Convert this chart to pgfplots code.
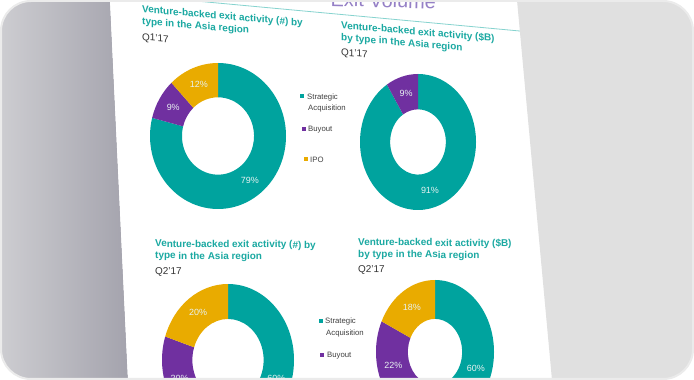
\documentclass[border=0pt]{standalone}
\usepackage{pgfplots}
\pgfplotsset{compat=1.18}
\usepackage{pgfplotstable}
\usepackage{fontspec}
\setmainfont{Liberation Sans}
\definecolor{sa}{HTML}{00A39E}
\definecolor{bo}{HTML}{7030A0}
\definecolor{ipo}{HTML}{E9AB00}
\definecolor{ttl}{HTML}{1BA9A2}
\definecolor{qcol}{HTML}{333333}
\definecolor{legcol}{HTML}{404040}
\definecolor{lblcol}{HTML}{E8F2F1}
\definecolor{rgrey}{HTML}{E0E0E0}
\definecolor{lgreyA}{HTML}{CDCDD1}
\definecolor{lgreyB}{HTML}{A4A3AD}
\definecolor{framecol}{HTML}{EBEBEB}
\definecolor{hdr}{HTML}{86D3CF}
\definecolor{hdrtxt}{HTML}{9580C6}

% share of exits by type, in per cent (IPO is 0% in the $B chart for Q1'17)
\pgfplotstableread{
v c
79 sa
9 bo
12 ipo
}\tabQa
\pgfplotstableread{
v c
91 sa
9 bo
}\tabQb
\pgfplotstableread{
v c
60 sa
20 bo
20 ipo
}\tabQc
\pgfplotstableread{
v c
60 sa
22 bo
18 ipo
}\tabQd

\tikzset{lbl/.style={font=\fontsize{9}{10}\selectfont, text=lblcol, inner sep=0pt}}
\pgfplotsset{donut/.style={hide axis, scale only axis, xmin=-1, xmax=1, ymin=-1, ymax=1, anchor=center, clip=false}}

% #1 table, #2 x radius (bp), #3 y radius (bp), #4 inner/outer ratio
\newcommand\donutslices[4]{%
  \pgfplotstablegetrowsof{#1}%
  \pgfmathtruncatemacro\dN{\pgfplotsretval-1}%
  \def\dcum{0}%
  \pgfplotsforeachungrouped \di in {0,...,\dN}{%
    \pgfplotstablegetelem{\di}{v}\of{#1}\let\dv\pgfplotsretval
    \pgfplotstablegetelem{\di}{c}\of{#1}\let\dc\pgfplotsretval
    \pgfmathsetmacro\da{90-3.6*\dcum}%
    \pgfmathsetmacro\db{90-3.6*(\dcum+\dv)}%
    \pgfmathsetmacro\dm{(\da+\db)/2}%
    \pgfmathsetmacro\dax{cos(\da)}\pgfmathsetmacro\day{sin(\da)}%
    \pgfmathsetmacro\dbx{#4*cos(\db)}\pgfmathsetmacro\dby{#4*sin(\db)}%
    \pgfmathsetmacro\dlx{(1+#4)/2*cos(\dm)}\pgfmathsetmacro\dly{(1+#4)/2*sin(\dm)}%
    \pgfmathsetmacro\dirx{#4*#2}\pgfmathsetmacro\diry{#4*#3}%
    \edef\dodonut{%
      \noexpand\fill[\dc] (axis cs:\dax,\day) arc[start angle=\da, end angle=\db, x radius=#2bp, y radius=#3bp]
        -- (axis cs:\dbx,\dby) arc[start angle=\db, end angle=\da, x radius=\dirx bp, y radius=\diry bp] -- cycle;
      \noexpand\node[lbl] at (axis cs:\dlx,\dly) {\dv\noexpand\%};}%
    \dodonut
    \pgfmathsetmacro\dcum{\dcum+\dv}%
  }%
}

\newcommand\tf{\fontsize{10}{11.5}\selectfont\bfseries\color{ttl}}
\newcommand\qf{\fontsize{10}{11.5}\selectfont\mdseries\color{qcol}}

\begin{document}
\begin{tikzpicture}
\useasboundingbox (0,0) rectangle (694bp,380bp);
\fill[white] (0,0) rectangle (694bp,380bp);
\begin{scope}
  \clip[rounded corners=30bp] (1bp,1bp) rectangle (693bp,379bp);
  \begin{scope}[x=1bp,y=-1bp,yshift=380bp]
    \shade[left color=lgreyA, right color=lgreyB] (0,0) -- (110,0) -- (128,380) -- (0,380) -- cycle;
    \fill[white] (110,0) -- (517,0) -- (552,380) -- (128,380) -- cycle;
    \fill[rgrey] (517,0) -- (694,0) -- (694,380) -- (552,380) -- cycle;
  \end{scope}
  \begin{scope}
    \clip (110bp,380bp) -- (517bp,380bp) -- (552bp,0bp) -- (128bp,0bp) -- cycle;
    \begin{scope}[x=1bp,y=-1bp,yshift=380bp]
      % page header
      \node[anchor=base east, inner sep=0, rotate=-1.5, text=hdrtxt, font=\fontsize{20}{22}\selectfont] at (436,9) {Exit Volume};
      \draw[hdr, line width=0.8bp] (185,0) -- (525,31.5);
      % titles
      \begin{scope}[every node/.style={inner sep=0pt, anchor=north west, align=left}]
        \node[yslant=-0.085] at (142,5) {\tf Venture-backed exit activity (\#) by\\\tf type in the Asia region\\[4bp]\qf Q1'17};
        \node[yslant=-0.085] at (341,21) {\tf Venture-backed exit activity (\$B)\\\tf by type in the Asia region\\[3bp]\qf Q1'17};
        \node[yslant=-0.008] at (155,239.5) {\tf Venture-backed exit activity (\#) by\\\tf type in the Asia region\\[3.5bp]\qf Q2'17};
        \node[yslant=-0.012] at (358,237.5) {\tf Venture-backed exit activity (\$B)\\\tf by type in the Asia region\\[3.5bp]\qf Q2'17};
      \end{scope}
      % legends
      \begin{scope}[every node/.style={inner sep=0pt, anchor=base west, text=legcol, font=\fontsize{7.8}{9}\selectfont}]
        \fill[sa] (299.8,93.8) rectangle (304.2,98.2);
        \node at (307,99.5) {Strategic};
        \node at (308,111) {Acquisition};
        \fill[bo] (301.8,126.8) rectangle (306.2,131.2);
        \node at (308,132) {Buyout};
        \fill[ipo] (303.8,156.8) rectangle (308.2,161.2);
        \node at (310,162.5) {IPO};
        \fill[sa] (318.8,318.8) rectangle (323.2,323.2);
        \node at (325,324) {Strategic};
        \node at (326,335.5) {Acquisition};
        \fill[bo] (319.8,352.8) rectangle (324.2,357.2);
        \node at (327,358) {Buyout};
      \end{scope}
    \end{scope}
    % donut charts
    \begin{axis}[donut, at={(218bp,244bp)}, width=136bp, height=146bp]
      \donutslices{\tabQa}{68}{73}{0.53}
    \end{axis}
    \begin{axis}[donut, at={(418bp,238bp)}, width=116bp, height=136bp]
      \donutslices{\tabQb}{58}{68}{0.48}
    \end{axis}
    \begin{axis}[donut, at={(228bp,20bp)}, width=132bp, height=152bp]
      \donutslices{\tabQc}{66}{76}{0.54}
    \end{axis}
    \begin{axis}[donut, at={(435bp,28bp)}, width=118bp, height=144bp]
      \donutslices{\tabQd}{59}{72}{0.46}
    \end{axis}
  \end{scope}
\end{scope}
\draw[framecol, line width=2bp, rounded corners=30bp] (1bp,1bp) rectangle (693bp,379bp);
\end{tikzpicture}
\end{document}
